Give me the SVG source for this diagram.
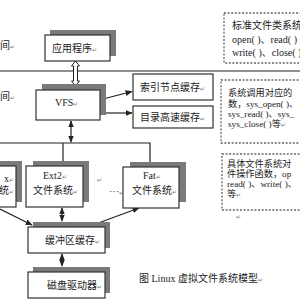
<svg xmlns="http://www.w3.org/2000/svg" width="300" height="300" viewBox="0 0 300 300">
<style>
.bg{fill:#fff}
.box{fill:#fff;stroke:#333;stroke-width:1.2}
.sh{fill:#7a7a7a}
.ln{stroke:#222;stroke-width:1.2;fill:none}
.dash{fill:#fff;stroke:#666;stroke-width:1.3;stroke-dasharray:2 1.6}
text{font-family:"Liberation Serif","Noto Sans CJK SC",serif;font-size:10px;fill:#222}
.nt{font-size:9.2px}
.rm{font-size:6px;fill:#777}
</style>
<defs>
<marker id="ah" viewBox="0 0 10 10" refX="9" refY="5" markerWidth="6" markerHeight="6" orient="auto-start-reverse">
<path d="M0,1 L10,5 L0,9 z" fill="#222"/>
</marker>
<marker id="dot" viewBox="0 0 10 10" refX="5" refY="5" markerWidth="4" markerHeight="4">
<circle cx="5" cy="5" r="4" fill="#222"/>
</marker>
</defs>
<rect class="bg" width="300" height="300"/>

<text x="0" y="49">间<tspan class="rm">↵</tspan></text>
<text x="0" y="100">间<tspan class="rm">↵</tspan></text>

<g id="connectors">
<line class="ln" x1="0" y1="71" x2="300" y2="71"/>
<polyline class="ln" points="0,143 150,143 150,162"/>
<line class="ln" x1="63" y1="143" x2="63" y2="161"/>
<line class="ln" x1="71" y1="121" x2="71" y2="142" marker-start="url(#ah)" marker-end="url(#ah)"/>
<line class="ln" x1="103" y1="99" x2="132" y2="91.5" marker-start="url(#dot)" marker-end="url(#ah)"/>
<line class="ln" x1="103" y1="113" x2="132" y2="113" marker-start="url(#dot)" marker-end="url(#ah)"/>
<line class="ln" x1="62" y1="208" x2="62" y2="221" marker-start="url(#ah)" marker-end="url(#ah)"/>
<line class="ln" x1="62" y1="254" x2="62" y2="266" marker-start="url(#ah)" marker-end="url(#ah)"/>
<line class="ln" x1="0" y1="209" x2="32" y2="225" marker-end="url(#ah)"/>
<line class="ln" x1="93" y1="225" x2="139" y2="208" marker-end="url(#ah)"/>
<path d="M75.5,61 L79.5,66 L77.5,66 L77.5,81 L79.5,81 L75.5,86 L71.5,81 L73.5,81 L73.5,66 L71.5,66 Z" fill="#fff" stroke="#222" stroke-width="1"/>
</g>

<g id="app">
<rect class="sh" x="50" y="30" width="66" height="26"/>
<rect class="box" x="45" y="35" width="65" height="26"/>
<text x="52" y="52">应用程序<tspan class="rm">↵</tspan></text>
</g>

<g id="vfs">
<rect class="sh" x="42" y="84" width="64" height="31"/>
<rect class="box" x="36" y="90" width="64" height="30"/>
<text x="55" y="106">VFS<tspan class="rm">↵</tspan></text>
</g>

<g id="inode">
<rect class="box" x="133" y="74" width="80" height="26"/>
<text x="140" y="91">索引节点缓存<tspan class="rm">↵</tspan></text>
</g>

<g id="dcache">
<rect class="box" x="133" y="106" width="80" height="22"/>
<text x="140" y="121">目录高速缓存<tspan class="rm">↵</tspan></text>
</g>

<g id="fsx">
<rect class="sh" x="-4" y="161" width="26" height="41"/>
<rect class="box" x="-10" y="166" width="26" height="41"/>
<text x="14" y="182" text-anchor="end">x<tspan class="rm">↵</tspan></text>
<text x="14" y="194" text-anchor="end">统<tspan class="rm">↵</tspan></text>
</g>

<g id="ext2">
<rect class="sh" x="33" y="161" width="56" height="41"/>
<rect class="box" x="26" y="166" width="57" height="41"/>
<text x="43" y="179">Ext2<tspan class="rm">↵</tspan></text>
<text x="33" y="194">文件系统<tspan class="rm">↵</tspan></text>
</g>

<text x="97" y="182" class="rm">↵</text>
<text x="109" y="195">···<tspan class="rm">↵</tspan></text>

<g id="fat">
<rect class="sh" x="130" y="162" width="56" height="40"/>
<rect class="box" x="123" y="167" width="56" height="41"/>
<text x="143" y="179">Fat<tspan class="rm">↵</tspan></text>
<text x="132" y="194">文件系统<tspan class="rm">↵</tspan></text>
</g>

<g id="buffer">
<rect class="sh" x="33" y="222" width="77" height="26"/>
<rect class="box" x="28" y="227" width="77" height="26"/>
<text x="45" y="244">缓冲区缓存<tspan class="rm">↵</tspan></text>
</g>

<g id="disk">
<rect class="sh" x="33" y="267" width="77" height="26"/>
<rect class="box" x="28" y="272" width="77" height="26"/>
<text x="47" y="289">磁盘驱动器<tspan class="rm">↵</tspan></text>
</g>

<g id="note1">
<rect class="dash" x="224" y="13" width="90" height="50"/>
<text x="232" y="29">标准文件类系统</text>
<text x="232" y="43">open( )、read( )</text>
<text x="232" y="56">write( )、close( )</text>
</g>

<g id="note2">
<rect class="dash" x="221" y="80" width="90" height="63"/>
<text class="nt" x="228" y="96">系统调用对应的</text>
<text class="nt" x="228" y="106.5">数，sys_open( )、</text>
<text class="nt" x="228" y="117">sys_read( )、sys_</text>
<text class="nt" x="228" y="127">sys_close( )等<tspan class="rm">↵</tspan></text>
</g>

<g id="note3">
<rect class="dash" x="222" y="154" width="90" height="56"/>
<text class="nt" x="227" y="167">具体文件系统对</text>
<text class="nt" x="227" y="177">件操作函数，op</text>
<text class="nt" x="227" y="187">read( )、write( )、</text>
<text class="nt" x="227" y="197">等<tspan class="rm">↵</tspan></text>
</g>
<text x="236" y="219" class="rm">↵</text>

<text x="139" y="282">图 Linux  虚拟文件系统模型<tspan class="rm">↵</tspan></text>
</svg>
